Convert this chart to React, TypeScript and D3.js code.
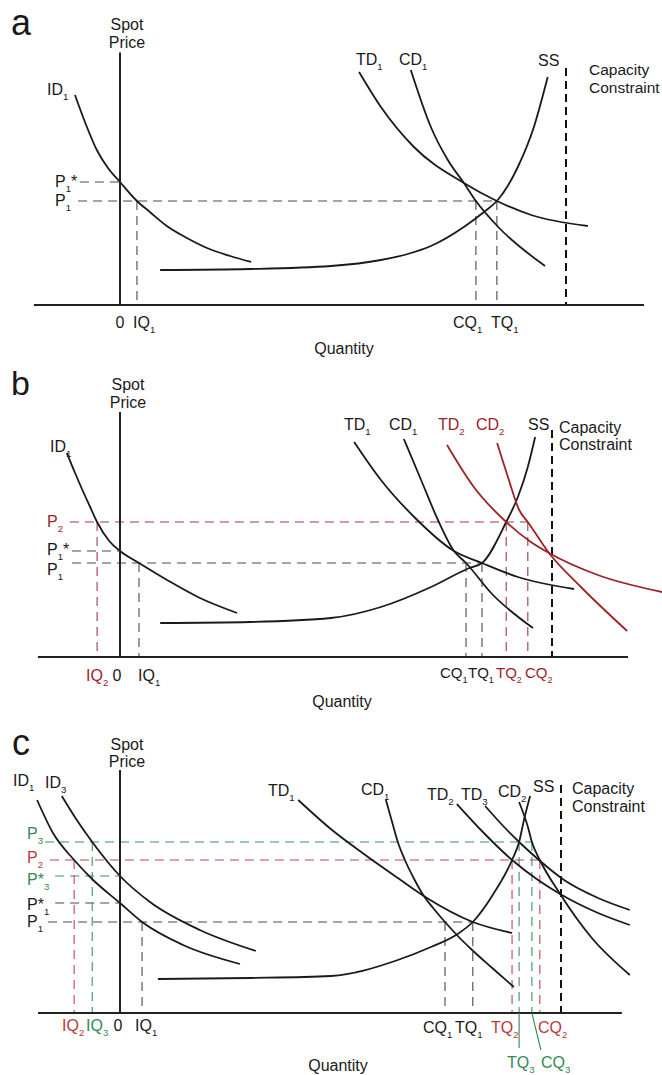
import React from "react";
import * as d3 from "d3";

type Pt = [number, number];

// ---------------- Panel a data (quantity, price) ----------------
const A_ID1: Pt[] = [[-10.1, 84], [-7.6, 72], [-5.2, 62], [-2.7, 54.8], [0, 49.2], [3.8, 41.6], [6.7, 37.2], [10.5, 31.6], [15, 26.8], [19.5, 22.8], [24.7, 19.6], [29.4, 17.2]];
const A_SS: Pt[] = [[9, 14], [29.1, 14.4], [47.3, 15.6], [58.5, 18], [64.5, 20.4], [69.7, 23.6], [77.1, 31.2], [81.6, 37.2], [84.5, 41.6], [89.2, 55.2], [92.8, 71.2], [95.9, 91.2]];
const A_TD1: Pt[] = [[53.6, 93.2], [58.5, 79.2], [65.9, 63.2], [77.1, 48.8], [84.5, 41.6], [92.2, 36], [104.9, 31.6]];
const A_CD1: Pt[] = [[65.2, 94], [69.7, 71.2], [73.5, 58], [77.1, 48.8], [79.8, 41.6], [84.8, 31.2], [95.3, 15.6]];
const A_LEVELS = [
  { p: 49.2, from: -9, to: 0, c: "k" },
  { p: 41.6, from: -9.4, to: 84.5, c: "k" },
];
const A_DROPS = [
  { q: 3.8, p: 41.6, c: "k" },
  { q: 79.8, p: 41.6, c: "k" },
  { q: 84.5, p: 41.6, c: "k" },
];
const A_CAP = { q: 100, top: 94.8 };
const A_AXIS = { xMin: -19.3, xMax: 117.5, yMax: 101 };

// ---------------- Panel b data ----------------
const B_ID1: Pt[] = [[-12.3, 81.6], [-10.4, 73.6], [-8.6, 66.4], [-6.9, 60], [-5.3, 54], [-2.5, 46.4], [0, 42.4], [4.4, 37.6], [10.9, 30.8], [18.5, 23.6], [27.1, 17.6]];
const B_SS: Pt[] = [[9.3, 13.6], [30.1, 14], [48.8, 15.6], [60.4, 20], [72, 28], [80.6, 35.4], [83.8, 37.6], [89.4, 54], [92.1, 64], [94.4, 76], [96.1, 88]];
const B_TD1: Pt[] = [[54.2, 86], [60.4, 70.8], [68.1, 56], [77.3, 42.4], [83.8, 37.6], [92.1, 32], [105.1, 27.2]];
const B_CD1: Pt[] = [[65.7, 87.2], [69.7, 70.8], [73.6, 54.8], [77.3, 42.4], [80.1, 37.6], [85.9, 25.6], [95.6, 11.6]];
const B_TD2: Pt[] = [[75.7, 84.8], [81.9, 68], [89.4, 54], [95.1, 46], [99.3, 41.6], [110.6, 32.8], [125.5, 26]];
const B_CD2: Pt[] = [[87.3, 85.6], [89.8, 72], [92.4, 58.8], [94.4, 54], [99.3, 41.6], [106.7, 28], [117.4, 10.4]];
const B_LEVELS = [
  { p: 54, from: -11.6, to: 94.4, c: "r" },
  { p: 42.4, from: -11.1, to: 0, c: "k" },
  { p: 37.6, from: -11.1, to: 83.8, c: "k" },
];
const B_DROPS = [
  { q: -5.3, p: 54, c: "r" },
  { q: 4.4, p: 37.6, c: "k" },
  { q: 80.1, p: 37.6, c: "k" },
  { q: 83.8, p: 37.6, c: "k" },
  { q: 89.4, p: 54, c: "r" },
  { q: 94.4, p: 54, c: "r" },
];
const B_CAP = { q: 100, top: 90.8 };
const B_AXIS = { xMin: -19, xMax: 117.6, yMax: 98 };

// ---------------- Panel c data ----------------
const C_ID1: Pt[] = [[-18.8, 85.2], [-15.2, 72], [-10.4, 61.2], [-6.1, 53.2], [0, 44], [5, 36.4], [14.3, 27.2], [27.2, 19.6]];
const C_ID3: Pt[] = [[-13.2, 86.8], [-9.8, 77.2], [-6.3, 68.4], [0, 54.8], [6.8, 44.4], [18.1, 33.2], [30.8, 24.8]];
const C_SS: Pt[] = [[8.6, 13.6], [29.5, 14], [47.8, 14.8], [63, 21.2], [70.5, 26.4], [76.2, 31.2], [80, 36.4], [84.8, 48], [88.9, 61.2], [90.5, 68.4], [91.6, 77.2], [93, 86.8]];
const C_TD1: Pt[] = [[40.4, 85.2], [47.8, 73.6], [55.3, 63.6], [63, 54], [69.6, 46], [80, 36.4], [88.9, 32]];
const C_CD1: Pt[] = [[60.3, 85.2], [61.7, 76.4], [63, 68.4], [64.6, 61.2], [66.7, 53.6], [68.9, 46.8], [71, 42], [73.7, 36.4], [76.6, 30.8], [79.6, 25.6], [84.4, 18], [89.3, 10.4]];
const C_TD2: Pt[] = [[76.4, 83.6], [82.5, 72], [88.9, 61.2], [94.8, 53.2], [99.8, 47.6], [108.4, 40], [115.6, 35.2]];
const C_TD3: Pt[] = [[82.8, 82.8], [87.1, 74.4], [90.5, 68.4], [95, 61.2], [100.7, 53.2], [108.4, 46], [115.6, 41.2]];
const C_CD2: Pt[] = [[90.5, 84.4], [92.5, 74.4], [93.4, 68.4], [95.2, 61.2], [99.8, 47.6], [106.8, 30.4], [115.6, 15.2]];
const C_LEVELS = [
  { p: 68.4, from: -17, to: 93.4, c: "g" },
  { p: 61.2, from: -15.9, to: 95.2, c: "r" },
  { p: 54.8, from: -14.7, to: 0, c: "g" },
  { p: 44, from: -14.7, to: 0, c: "k" },
  { p: 36.4, from: -16.3, to: 80, c: "k" },
];
const C_DROPS = [
  { q: -10.4, p: 61.2, c: "r" },
  { q: -6.3, p: 68.4, c: "g" },
  { q: 5, p: 36.4, c: "k" },
  { q: 73.7, p: 36.4, c: "k" },
  { q: 80, p: 36.4, c: "k" },
  { q: 88.9, p: 61.2, c: "r" },
  { q: 90.5, p: 68.4, c: "g" },
  { q: 93.4, p: 68.4, c: "g" },
  { q: 95.2, p: 61.2, c: "r" },
];
const C_CAP = { q: 100, top: 91.2 };
const C_AXIS = { xMin: -18.6, xMax: 113.8, yMax: 97.2 };

// ---------------- styling / layout ----------------
const FONT = "'Liberation Sans', Arial, Helvetica, sans-serif";
const INK = "#1a1a1a";
const COLORS_B: Record<string, string> = { k: "#4a4a4a", r: "#a3393d", g: "#3a8f5c" };
const COLORS_C: Record<string, string> = { k: "#4a4a4a", r: "#c0474a", g: "#3a9161" };
const RED_B = "#9b2429";
const RED_C = "#b8383c";
const GREEN = "#2f8a55";
const FS = 16;

type Lab = { x: number; y: number; t: string; c?: string; s?: number; a?: string };

function Label({ x, y, t, c = INK, s = FS, a = "start" }: Lab) {
  const parts: { t: string; sub: boolean }[] = [];
  let i = 0;
  while (i < t.length) {
    if (t[i] === "_") {
      parts.push({ t: t[i + 1], sub: true });
      i += 2;
    } else {
      let s2 = "";
      while (i < t.length && t[i] !== "_") {
        s2 += t[i];
        i++;
      }
      parts.push({ t: s2, sub: false });
    }
  }
  const shift = s * 0.3;
  let cur = 0;
  return (
    <text x={x} y={y} fill={c} fontSize={s} fontFamily={FONT} textAnchor={a as any}>
      {parts.map((p, k) => {
        const target = p.sub ? shift : 0;
        const dy = target - cur;
        cur = target;
        return (
          <tspan key={k} dy={dy} fontSize={p.sub ? s * 0.6 : s}>
            {p.t}
          </tspan>
        );
      })}
    </text>
  );
}

type Curve = { pts: Pt[]; color: string };
type PanelProps = {
  x0: number;
  xCapPx: number;
  y0: number;
  axis: { xMin: number; xMax: number; yMax: number };
  curves: Curve[];
  levels: { p: number; from: number; to: number; c: string }[];
  drops: { q: number; p: number; c: string }[];
  cap: { q: number; top: number };
  palette: Record<string, string>;
  labels: Lab[];
  extra?: (x: d3.ScaleLinear<number, number>, y: d3.ScaleLinear<number, number>) => React.ReactNode;
};

function Panel(props: PanelProps) {
  const { x0, xCapPx, y0, axis, curves, levels, drops, cap, palette, labels, extra } = props;
  const x = d3.scaleLinear().domain([0, 100]).range([x0, xCapPx]);
  const y = d3.scaleLinear().domain([0, 100]).range([y0, y0 - 250]);
  const line = d3
    .line<Pt>()
    .x((d) => x(d[0]))
    .y((d) => y(d[1]))
    .curve(d3.curveMonotoneX);
  return (
    <g>
      {levels.map((l, i) => (
        <line key={"l" + i} x1={x(l.from)} x2={x(l.to)} y1={y(l.p)} y2={y(l.p)} stroke={palette[l.c]} strokeWidth={1.1} strokeDasharray="9,6" />
      ))}
      {drops.map((d, i) => (
        <line key={"d" + i} x1={x(d.q)} x2={x(d.q)} y1={y(d.p)} y2={y(0)} stroke={palette[d.c]} strokeWidth={1.1} strokeDasharray="9,6" />
      ))}
      <line x1={x(cap.q)} x2={x(cap.q)} y1={y(cap.top)} y2={y(0)} stroke="#111" strokeWidth={2} strokeDasharray="8,5" />
      {curves.map((c, i) => (
        <path key={"c" + i} d={line(c.pts) || ""} fill="none" stroke={c.color} strokeWidth={1.8} />
      ))}
      <line x1={x(axis.xMin)} x2={x(axis.xMax)} y1={y(0)} y2={y(0)} stroke="#222" strokeWidth={2} />
      <line x1={x(0)} x2={x(0)} y1={y(0)} y2={y(axis.yMax)} stroke="#222" strokeWidth={2} />
      {extra && extra(x, y)}
      {labels.map((l, i) => (
        <Label key={"t" + i} {...l} />
      ))}
    </g>
  );
}

const LABELS_A: Lab[] = [
  { x: 11, y: 35, t: "a", s: 36 },
  { x: 127, y: 30, t: "Spot", a: "middle" },
  { x: 127, y: 48, t: "Price", a: "middle" },
  { x: 47, y: 95, t: "ID_1" },
  { x: 55, y: 187, t: "P_1*" },
  { x: 55, y: 206, t: "P_1" },
  { x: 120, y: 328, t: "0", a: "middle" },
  { x: 133, y: 328, t: "IQ_1" },
  { x: 356, y: 65, t: "TD_1" },
  { x: 399, y: 65, t: "CD_1" },
  { x: 538, y: 66, t: "SS" },
  { x: 589, y: 75, t: "Capacity", s: 15.5 },
  { x: 589, y: 93, t: "Constraint", s: 15.5 },
  { x: 453, y: 328, t: "CQ_1" },
  { x: 491, y: 328, t: "TQ_1" },
  { x: 344, y: 354, t: "Quantity", a: "middle" },
];

const LABELS_B: Lab[] = [
  { x: 11, y: 395, t: "b", s: 34 },
  { x: 128, y: 390, t: "Spot", a: "middle" },
  { x: 128, y: 408, t: "Price", a: "middle" },
  { x: 50, y: 452, t: "ID_1" },
  { x: 47, y: 527, t: "P_2", c: RED_B },
  { x: 47, y: 555, t: "P_1*" },
  { x: 47, y: 575, t: "P_1" },
  { x: 86, y: 681, t: "IQ_2", c: RED_B },
  { x: 117, y: 681, t: "0", a: "middle" },
  { x: 138, y: 681, t: "IQ_1" },
  { x: 344, y: 430, t: "TD_1" },
  { x: 389, y: 430, t: "CD_1" },
  { x: 438, y: 430, t: "TD_2", c: RED_B },
  { x: 476, y: 430, t: "CD_2", c: RED_B },
  { x: 528, y: 430, t: "SS" },
  { x: 559, y: 433, t: "Capacity" },
  { x: 559, y: 450, t: "Constraint" },
  { x: 440, y: 678, t: "CQ_1", s: 15 },
  { x: 468, y: 678, t: "TQ_1", s: 15 },
  { x: 496, y: 678, t: "TQ_2", c: RED_B, s: 15 },
  { x: 525, y: 678, t: "CQ_2", c: RED_B, s: 15 },
  { x: 342, y: 707, t: "Quantity", a: "middle" },
];

const LABELS_C: Lab[] = [
  { x: 12, y: 755, t: "c", s: 36 },
  { x: 127, y: 750, t: "Spot", a: "middle" },
  { x: 127, y: 767, t: "Price", a: "middle" },
  { x: 13, y: 786, t: "ID_1" },
  { x: 45, y: 788, t: "ID_3" },
  { x: 27, y: 839, t: "P_3", c: GREEN },
  { x: 27, y: 863, t: "P_2", c: RED_C },
  { x: 27, y: 885, t: "P*_3", c: GREEN },
  { x: 27, y: 910, t: "P*_1" },
  { x: 27, y: 927, t: "P_1" },
  { x: 268, y: 796, t: "TD_1" },
  { x: 361, y: 795, t: "CD_1" },
  { x: 427, y: 800, t: "TD_2" },
  { x: 461, y: 800, t: "TD_3" },
  { x: 498, y: 797, t: "CD_2" },
  { x: 533, y: 792, t: "SS" },
  { x: 572, y: 794, t: "Capacity" },
  { x: 572, y: 812, t: "Constraint" },
  { x: 62, y: 1031, t: "IQ_2", c: RED_C },
  { x: 86, y: 1031, t: "IQ_3", c: GREEN },
  { x: 118, y: 1031, t: "0", a: "middle" },
  { x: 135, y: 1031, t: "IQ_1" },
  { x: 423, y: 1033, t: "CQ_1" },
  { x: 455, y: 1033, t: "TQ_1" },
  { x: 491, y: 1033, t: "TQ_2", c: RED_C },
  { x: 538, y: 1033, t: "CQ_2", c: RED_C },
  { x: 507, y: 1068, t: "TQ_3", c: GREEN },
  { x: 541, y: 1068, t: "CQ_3", c: GREEN },
  { x: 338, y: 1071, t: "Quantity", a: "middle" },
];

export default function App() {
  return (
    <svg width={662} height={1075} style={{ position: "absolute", left: 0, top: 0, background: "#fff" }}>
      <rect width={662} height={1075} fill="#fff" />
      <Panel
        x0={120}
        xCapPx={566}
        y0={305}
        axis={A_AXIS}
        curves={[
          { pts: A_ID1, color: INK },
          { pts: A_SS, color: INK },
          { pts: A_TD1, color: INK },
          { pts: A_CD1, color: INK },
        ]}
        levels={A_LEVELS}
        drops={A_DROPS}
        cap={A_CAP}
        palette={COLORS_B}
        labels={LABELS_A}
      />
      <Panel
        x0={120}
        xCapPx={552}
        y0={657}
        axis={B_AXIS}
        curves={[
          { pts: B_ID1, color: INK },
          { pts: B_SS, color: INK },
          { pts: B_TD1, color: INK },
          { pts: B_CD1, color: INK },
          { pts: B_TD2, color: RED_B },
          { pts: B_CD2, color: RED_B },
        ]}
        levels={B_LEVELS}
        drops={B_DROPS}
        cap={B_CAP}
        palette={COLORS_B}
        labels={LABELS_B}
      />
      <Panel
        x0={120}
        xCapPx={561}
        y0={1013}
        axis={C_AXIS}
        curves={[
          { pts: C_ID1, color: INK },
          { pts: C_ID3, color: INK },
          { pts: C_SS, color: INK },
          { pts: C_TD1, color: INK },
          { pts: C_CD1, color: INK },
          { pts: C_TD2, color: INK },
          { pts: C_TD3, color: INK },
          { pts: C_CD2, color: INK },
        ]}
        levels={C_LEVELS}
        drops={C_DROPS}
        cap={C_CAP}
        palette={COLORS_C}
        labels={LABELS_C}
        extra={(x, y) => (
          <g stroke={GREEN} strokeWidth={1.1}>
            <line x1={x(90.5)} x2={x(90.5)} y1={y(0)} y2={y(0) + 35} />
            <line x1={x(93.4)} x2={x(93.4) + 9} y1={y(0)} y2={y(0) + 37} />
          </g>
        )}
      />
    </svg>
  );
}
